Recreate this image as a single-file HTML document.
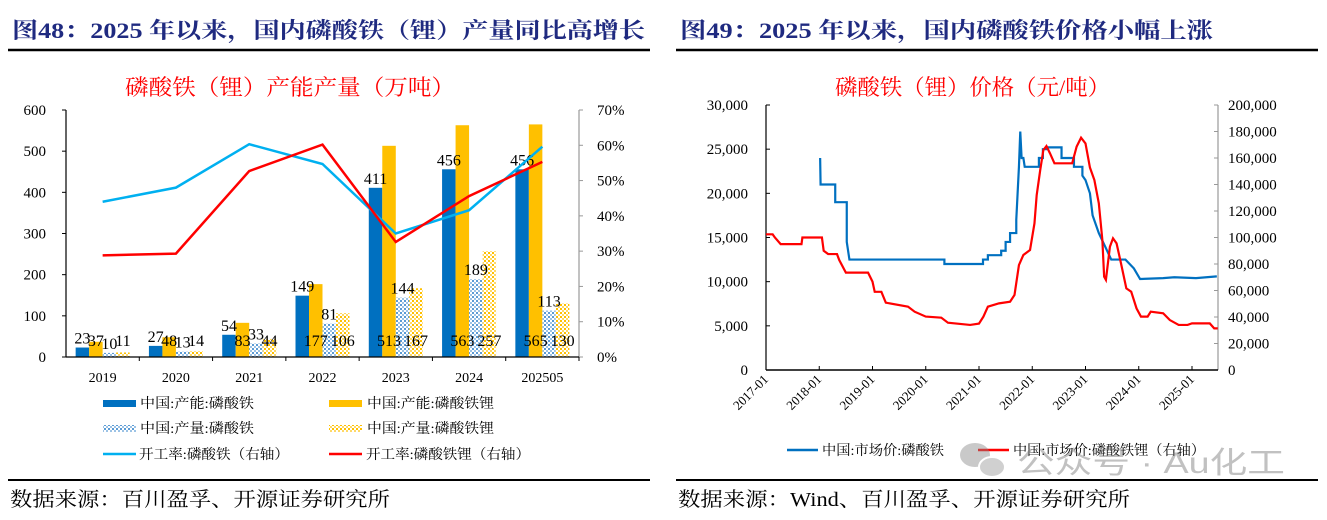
<!DOCTYPE html>
<html><head><meta charset="utf-8"><style>
html,body{margin:0;padding:0;background:#fff;width:1327px;height:520px;overflow:hidden}
svg text{font-family:"Liberation Serif","Noto Serif CJK SC",serif}
</style></head><body>
<svg id="s" width="1327" height="520" xmlns="http://www.w3.org/2000/svg">
<defs>
<pattern id="pb" width="4" height="4" patternUnits="userSpaceOnUse"><rect width="4" height="4" fill="#fff"/><rect x="0" y="0" width="2" height="2" fill="#5b9bd5"/><rect x="2" y="2" width="2" height="2" fill="#9cc3e6"/></pattern>
<pattern id="py" width="4" height="4" patternUnits="userSpaceOnUse"><rect width="4" height="4" fill="#fff"/><rect x="0" y="0" width="2" height="2" fill="#ffc000"/><rect x="2" y="2" width="2" height="2" fill="#ffd966"/></pattern>
</defs>
<text x="12" y="38" font-size="22" font-weight="bold" fill="#1f2a80" textLength="633" lengthAdjust="spacingAndGlyphs">图48：2025 年以来，国内磷酸铁（锂）产量同比高增长</text>
<line x1="8" y1="50" x2="650" y2="50" stroke="#000" stroke-width="2.5"/>
<text x="680" y="38" font-size="22" font-weight="bold" fill="#1f2a80" textLength="533" lengthAdjust="spacingAndGlyphs">图49：2025 年以来，国内磷酸铁价格小幅上涨</text>
<line x1="676" y1="50" x2="1318" y2="50" stroke="#000" stroke-width="2.5"/>
<text x="125" y="95" font-size="22" fill="#ff0000" textLength="330" lengthAdjust="spacingAndGlyphs">磷酸铁（锂）产能产量（万吨）</text>
<text x="835" y="95" font-size="22" fill="#ff0000" textLength="275" lengthAdjust="spacingAndGlyphs">磷酸铁（锂）价格（元/吨）</text>
<g id="L"></g>
<g id="R"></g>
<!-- left legend -->
<rect x="103" y="400" width="33" height="7" fill="#0070c0"/>
<text x="140" y="408" font-size="14" textLength="114" lengthAdjust="spacingAndGlyphs">中国:产能:磷酸铁</text>
<rect x="329" y="400" width="33" height="7" fill="#ffc000"/>
<text x="367" y="408" font-size="14" textLength="127" lengthAdjust="spacingAndGlyphs">中国:产能:磷酸铁锂</text>
<rect x="103" y="425" width="33" height="7" fill="url(#pb)"/>
<text x="140" y="433" font-size="14" textLength="114" lengthAdjust="spacingAndGlyphs">中国:产量:磷酸铁</text>
<rect x="329" y="425" width="33" height="7" fill="url(#py)"/>
<text x="367" y="433" font-size="14" textLength="127" lengthAdjust="spacingAndGlyphs">中国:产量:磷酸铁锂</text>
<line x1="103" y1="454" x2="136" y2="454" stroke="#00b0f0" stroke-width="2.5"/>
<text x="139" y="459" font-size="14" textLength="150" lengthAdjust="spacingAndGlyphs">开工率:磷酸铁（右轴）</text>
<line x1="329" y1="454" x2="362" y2="454" stroke="#ff0000" stroke-width="2.5"/>
<text x="366" y="459" font-size="14" textLength="164" lengthAdjust="spacingAndGlyphs">开工率:磷酸铁锂（右轴）</text>
<!-- right legend -->
<line x1="787" y1="450" x2="818" y2="450" stroke="#0070c0" stroke-width="2.5"/>
<text x="822" y="455" font-size="14" textLength="122" lengthAdjust="spacingAndGlyphs">中国:市场价:磷酸铁</text>
<line x1="978" y1="450" x2="1009" y2="450" stroke="#ff0000" stroke-width="2.5"/>
<text x="1013" y="455" font-size="14" textLength="192" lengthAdjust="spacingAndGlyphs">中国:市场价:磷酸铁锂（右轴）</text>
<g opacity="0.45">
<ellipse cx="975" cy="455" rx="15" ry="12" fill="#888"/><ellipse cx="992" cy="467" rx="13" ry="10" fill="#999" stroke="#fff" stroke-width="2"/>
<text x="1017" y="473" font-size="30" fill="#777" textLength="268" lengthAdjust="spacingAndGlyphs" style="font-family:'Liberation Sans','Noto Sans CJK SC',sans-serif">公众号 · Au化工</text>
</g>
<line x1="8" y1="480" x2="650" y2="480" stroke="#000" stroke-width="2"/>
<text x="10" y="506" font-size="20" textLength="380" lengthAdjust="spacingAndGlyphs">数据来源：百川盈孚、开源证券研究所</text>
<line x1="676" y1="480" x2="1318" y2="480" stroke="#000" stroke-width="2"/>
<text x="678" y="506" font-size="20" textLength="452" lengthAdjust="spacingAndGlyphs">数据来源：Wind、百川盈孚、开源证券研究所</text>
</svg>
<script>
// ---- left chart data ----
const years = ["2019","2020","2021","2022","2023","2024","202505"];
const capFP = [23,27,54,149,411,456,456];
const capLFP = [37,48,83,177,513,563,565];
const outFP = [10,13,33,81,144,189,113];
const outLFP = [11,14,44,106,167,257,130];
const utilFP = [44,48,60.3,54.7,35,41.6,59.6];
const utilLFP = [28.8,29.3,52.7,60.2,32.6,45.6,55.3];
const leftTicks = [0,100,200,300,400,500,600];
const rightTicks = [0,10,20,30,40,50,60,70];
// ---- right chart data (months since 2017-01) ----
const fpMonths = [12.2,12.3,15.6,15.6,18.2,18.2,18.8,40.2,40.2,48.9,48.9,50,50,53,53,54,54,55,55,56.4,56.4,57,57.3,57.6,58,58.3,61.5,61.5,62.4,62.4,63.4,63.4,66.6,66.6,69.4,69.4,71.3,71.3,72,73,73.6,75,76.4,77.8,81,82.9,84.3,89.5,92,96.9,101.6];
const fpPrice = [24000,21000,21000,19000,19000,14500,12500,12500,12000,12000,12500,12500,13000,13000,13500,13500,14500,14500,15500,15500,17000,23000,27000,24000,24000,23000,23000,24000,24000,25000,25000,25200,25200,24000,24000,23000,23000,22000,21500,20000,17500,15500,14000,12500,12500,11500,10300,10400,10500,10400,10600];
const lfpMonths = [0,1.5,2,3.3,8,8.2,12.6,13,14,16,16.5,18,23,24,24.5,26,27,32,33.5,36,39.5,41,46,48,49,50,52.5,55,56,57,58,59.5,60.5,61,61.8,62.5,63.2,64,65,69,70,71,72,73,74,75,75.8,76.2,76.6,77.5,78.2,79,80,81.2,82.3,83.5,84.5,86,86.7,89.5,91,93,95,96,100,101,101.8];
const lfpPrice = [102400,102400,100000,95000,95000,100000,100000,90000,87500,87500,83000,73500,73500,66700,59000,59000,50800,47800,44000,40300,39500,35700,34000,35000,40300,47800,50300,51500,56600,79200,86800,90600,110700,132000,151000,166000,169000,163500,156000,156000,168600,175300,171000,152800,143400,125800,98100,70400,68000,93000,99400,95600,80500,61600,59100,46500,40300,40300,44000,42800,37700,34000,34000,35200,35200,31400,31400];
const priceTicksL = [0,5000,10000,15000,20000,25000,30000];
const priceTicksR = [0,20000,40000,60000,80000,100000,120000,140000,160000,180000,200000];
const xTickLabels = ["2017-01","2018-01","2019-01","2020-01","2021-01","2022-01","2023-01","2024-01","2025-01"];

const NS="http://www.w3.org/2000/svg";
function mk(parent,tag,attrs,txt){const e=document.createElementNS(NS,tag);for(const k in attrs)e.setAttribute(k,attrs[k]);if(txt!==undefined)e.textContent=txt;parent.appendChild(e);return e;}
const fmt=n=>n.toLocaleString("en-US");

// ===== left chart =====
const L=document.getElementById("L");
const lx0=66,lx1=579,ly0=357,ly1=110;
const gw=(lx1-lx0)/years.length;
const yL=v=>ly0-(v/600)*(ly0-ly1);
const yR=v=>ly0-(v/70)*(ly0-ly1);
const gc=i=>lx0+gw*(i+0.5);
const bw=13.5;
leftTicks.forEach(t=>{
  const tl=mk(L,"text",{x:46,y:yL(t)+5,"font-size":15,"text-anchor":"end"},String(t));
  
  
  mk(L,"line",{x1:lx0-4,x2:lx0,y1:yL(t),y2:yL(t),stroke:"#000"});
});
rightTicks.forEach(t=>{
  const tl=mk(L,"text",{x:597,y:yR(t)+5,"font-size":15},t+"%");
  
  
  mk(L,"line",{x1:lx1,x2:lx1+4,y1:yR(t),y2:yR(t),stroke:"#999"});
});
const series=[[capFP,"#0070c0","capacity-fp",0],[capLFP,"#ffc000","capacity-lfp",1],[outFP,"url(#pb)","output-fp",2],[outLFP,"url(#py)","output-lfp",3]];
years.forEach((y,i)=>{
  const c=gc(i);
  series.forEach(([arr,col,nm,k])=>{
    const x=c-2*bw+k*bw;
    const b=mk(L,"rect",{x:x,y:yL(arr[i]),width:bw,height:ly0-yL(arr[i]),fill:col});
    
    
  });
});
years.forEach((y,i)=>{
  const c=gc(i);
  series.forEach(([arr,col,nm,k])=>{
    const x=c-2*bw+k*bw;
    const above=(k===0||k===2);
    const lb=mk(L,"text",{x:x+bw/2,y:above?yL(arr[i])-4:346,"font-size":16,"text-anchor":"middle"},String(arr[i]));
    
    
  });
  const xl=mk(L,"text",{x:c,y:382,"font-size":14,"text-anchor":"middle"},y);
  
  
  mk(L,"line",{x1:lx0+gw*(i+1),x2:lx0+gw*(i+1),y1:ly0,y2:ly0+4,stroke:"#000"});
});
mk(L,"line",{x1:lx0,x2:lx0,y1:ly1,y2:ly0,stroke:"#000","stroke-width":1.2});
mk(L,"line",{x1:lx1,x2:lx1,y1:ly1,y2:ly0,stroke:"#999","stroke-width":1.2});
mk(L,"line",{x1:lx0,x2:lx1,y1:ly0,y2:ly0,stroke:"#000","stroke-width":1.2});
const p1=mk(L,"polyline",{points:utilFP.map((v,i)=>gc(i)+","+yR(v)).join(" "),fill:"none",stroke:"#00b0f0","stroke-width":2.5});


const p2=mk(L,"polyline",{points:utilLFP.map((v,i)=>gc(i)+","+yR(v)).join(" "),fill:"none",stroke:"#ff0000","stroke-width":2.5});



// ===== right chart =====
const R=document.getElementById("R");
const rx0=766,rx1=1218,ry0=370,ry1=105,mpx=(1192-766)/96;
const xm=m=>rx0+m*mpx;
const yPL=v=>ry0-(v/30000)*(ry0-ry1);
const yPR=v=>ry0-(v/200000)*(ry0-ry1);
priceTicksL.forEach(t=>{
  const tl=mk(R,"text",{x:748,y:yPL(t)+5,"font-size":15,"text-anchor":"end"},fmt(t));
  
  
  mk(R,"line",{x1:rx0,x2:rx0+4,y1:yPL(t),y2:yPL(t),stroke:"#000"});
});
priceTicksR.forEach(t=>{
  const tl=mk(R,"text",{x:1228,y:yPR(t)+5,"font-size":15},fmt(t));
  
  
  mk(R,"line",{x1:rx1-4,x2:rx1,y1:yPR(t),y2:yPR(t),stroke:"#999"});
});
xTickLabels.forEach((s,i)=>{
  const x=xm(i*12);
  mk(R,"line",{x1:x,x2:x,y1:ry0-4,y2:ry0,stroke:"#000"});
  const tl=mk(R,"text",{x:x+3,y:ry0+10,"font-size":13,"text-anchor":"end",transform:`rotate(-45 ${x+3} ${ry0+10})`},s);
  
  
});
mk(R,"line",{x1:rx0,x2:rx0,y1:ry1,y2:ry0,stroke:"#000","stroke-width":1.2});
mk(R,"line",{x1:rx1,x2:rx1,y1:ry1,y2:ry0,stroke:"#999","stroke-width":1.2});
mk(R,"line",{x1:rx0,x2:rx1,y1:ry0,y2:ry0,stroke:"#000","stroke-width":1.5});
const q1=mk(R,"polyline",{points:fpMonths.map((m,i)=>xm(m)+","+yPL(fpPrice[i])).join(" "),fill:"none",stroke:"#0070c0","stroke-width":2.2});


const q2=mk(R,"polyline",{points:lfpMonths.map((m,i)=>xm(m)+","+yPR(lfpPrice[i])).join(" "),fill:"none",stroke:"#ff0000","stroke-width":2.2});


</script>
</body></html>
